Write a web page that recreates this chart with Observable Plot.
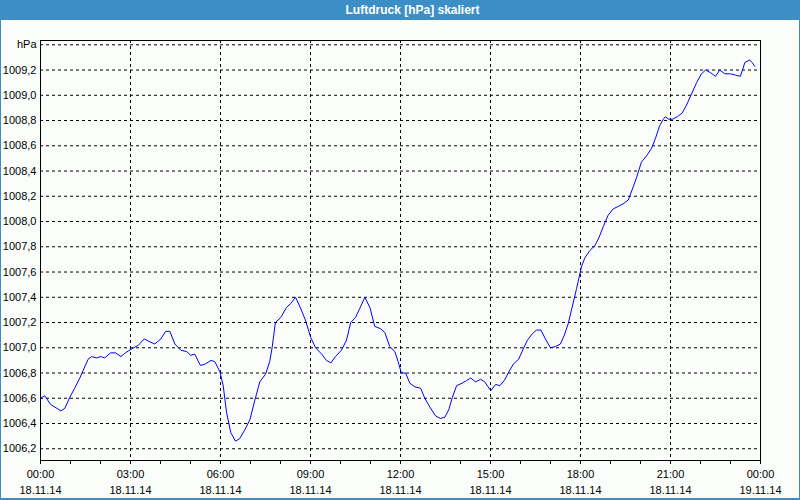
<!DOCTYPE html>
<html><head><meta charset="utf-8">
<script src="https://cdn.jsdelivr.net/npm/d3@7"></script>
<script src="https://cdn.jsdelivr.net/npm/@observablehq/plot@0.6"></script>
<style>
body{margin:0;background:#fff;}
#win{position:relative;width:800px;height:500px;background:#fbfdfb;overflow:hidden;font-family:"Liberation Sans",Arial,sans-serif;}
#title{position:absolute;left:0;top:0;width:800px;height:20px;background:#3c8fc6;color:#fff;font-weight:bold;font-size:12px;line-height:20px;text-align:center;padding-left:25px;box-sizing:border-box;}
#chart{position:absolute;left:0;top:20px;}
.bl{position:absolute;background:#3c8fc6;}
</style>
</head><body>
<div id="win">
  <div id="title">Luftdruck [hPa] skaliert</div>
  <div id="chart"></div>
  <div class="bl" style="left:0;top:0;width:1px;height:500px"></div>
  <div class="bl" style="right:0;top:0;width:1px;height:500px"></div>
  <div class="bl" style="left:0;bottom:0;width:800px;height:2px"></div>
</div>
<script>
// Hours since 18.11.14 00:00
const hours = [0.00,0.14,0.34,0.48,0.68,0.81,0.98,1.14,1.31,1.42,1.59,1.70,1.87,2.01,2.14,2.34,2.50,2.68,2.83,3.03,3.26,3.46,3.62,3.81,4.01,4.17,4.31,4.48,4.68,4.87,5.01,5.14,5.33,5.48,5.68,5.81,5.98,6.09,6.20,6.34,6.50,6.64,6.81,6.98,7.14,7.31,7.50,7.64,7.72,7.83,8.01,8.20,8.34,8.50,8.64,8.83,9.01,9.17,9.37,9.53,9.68,9.83,10.03,10.20,10.34,10.50,10.64,10.81,10.98,11.14,11.34,11.48,11.64,11.81,11.92,12.03,12.17,12.31,12.48,12.67,12.81,12.98,13.17,13.33,13.48,13.61,13.72,13.87,14.06,14.20,14.34,14.50,14.67,14.81,14.92,15.01,15.17,15.31,15.46,15.59,15.76,15.94,16.09,16.23,16.39,16.53,16.68,16.83,17.00,17.17,17.33,17.46,17.59,17.72,17.87,18.03,18.14,18.31,18.48,18.61,18.76,18.92,19.09,19.26,19.42,19.59,19.72,19.87,20.03,20.20,20.37,20.50,20.64,20.76,20.83,20.94,21.06,21.23,21.39,21.53,21.70,21.87,22.03,22.17,22.33,22.50,22.64,22.81,23.01,23.17,23.33,23.48,23.64,23.72,23.81];
// Air pressure in hPa
const pressure = [1006.60,1006.62,1006.55,1006.53,1006.50,1006.52,1006.61,1006.68,1006.76,1006.82,1006.91,1006.93,1006.92,1006.93,1006.92,1006.96,1006.96,1006.93,1006.96,1006.99,1007.02,1007.07,1007.05,1007.03,1007.07,1007.13,1007.13,1007.03,1006.98,1006.97,1006.94,1006.95,1006.86,1006.87,1006.90,1006.89,1006.81,1006.70,1006.49,1006.33,1006.26,1006.28,1006.35,1006.43,1006.58,1006.73,1006.79,1006.89,1007.00,1007.20,1007.24,1007.32,1007.35,1007.40,1007.33,1007.22,1007.08,1007.00,1006.95,1006.90,1006.88,1006.93,1006.98,1007.06,1007.20,1007.24,1007.31,1007.40,1007.32,1007.17,1007.15,1007.12,1007.01,1006.97,1006.89,1006.80,1006.80,1006.72,1006.69,1006.68,1006.60,1006.53,1006.46,1006.44,1006.45,1006.51,1006.60,1006.70,1006.72,1006.74,1006.76,1006.73,1006.75,1006.73,1006.69,1006.66,1006.71,1006.70,1006.74,1006.80,1006.87,1006.91,1006.99,1007.06,1007.11,1007.14,1007.14,1007.07,1007.00,1007.01,1007.03,1007.10,1007.19,1007.32,1007.47,1007.64,1007.71,1007.77,1007.81,1007.87,1007.96,1008.05,1008.10,1008.12,1008.14,1008.17,1008.25,1008.35,1008.47,1008.52,1008.58,1008.66,1008.76,1008.81,1008.83,1008.81,1008.81,1008.83,1008.86,1008.92,1009.01,1009.10,1009.17,1009.20,1009.18,1009.15,1009.20,1009.17,1009.17,1009.16,1009.15,1009.26,1009.28,1009.26,1009.23];
// Axis ticks
const yTicks = [1006.2,1006.4,1006.6,1006.8,1007.0,1007.2,1007.4,1007.6,1007.8,1008.0,1008.2,1008.4,1008.6,1008.8,1009.0,1009.2,1009.4];
const unitLabel = "hPa";
const xMajorHours = [0,3,6,9,12,15,18,21,24];
const xMinorHours = d3.range(0,25,1);

const t0 = Date.UTC(2014,10,18,0,0);
const toDate = h => new Date(t0 + h*3600000);
const data = hours.map((h,i) => ({date: toDate(h), value: pressure[i]}));
const xMajor = xMajorHours.map(toDate);
const xMinor = xMinorHours.map(toDate);
const fmtX = d3.utcFormat("%H:%M\n%d.%m.%y");
const fmtY = v => Math.abs(v - 1009.4) < 1e-6 ? unitLabel : v.toFixed(1).replace(".", ",");

const chart = Plot.plot({
  width: 800, height: 480,
  marginLeft: 40, marginRight: 40, marginTop: 20, marginBottom: 40,
  style: {background: "transparent", fontFamily: "'Liberation Sans', Arial, sans-serif", fontSize: "11px", color: "#000"},
  x: {type: "utc", domain: [toDate(0), toDate(24)], label: null},
  y: {domain: [1006.107, 1009.434], label: null},
  marks: [
    Plot.gridX(xMajor, {stroke: "#000", strokeOpacity: 1, strokeDasharray: "3,3"}),
    Plot.gridY(yTicks, {stroke: "#000", strokeOpacity: 1, strokeDasharray: "3,3"}),
    Plot.axisX(xMinor, {tickSize: 4, tickFormat: () => "", label: null}),
    Plot.axisX(xMajor, {tickSize: 4, tickPadding: 3, tickFormat: fmtX, lineHeight: 1.4, label: null}),
    Plot.axisY(yTicks, {tickSize: 0, tickPadding: 4, tickFormat: fmtY, label: null}),
    Plot.line(data, {x: "date", y: "value", stroke: "#0000ff", strokeWidth: 1}),
    Plot.frame({stroke: "#000"})
  ]
});
document.getElementById("chart").appendChild(chart);
</script>
</body></html>
